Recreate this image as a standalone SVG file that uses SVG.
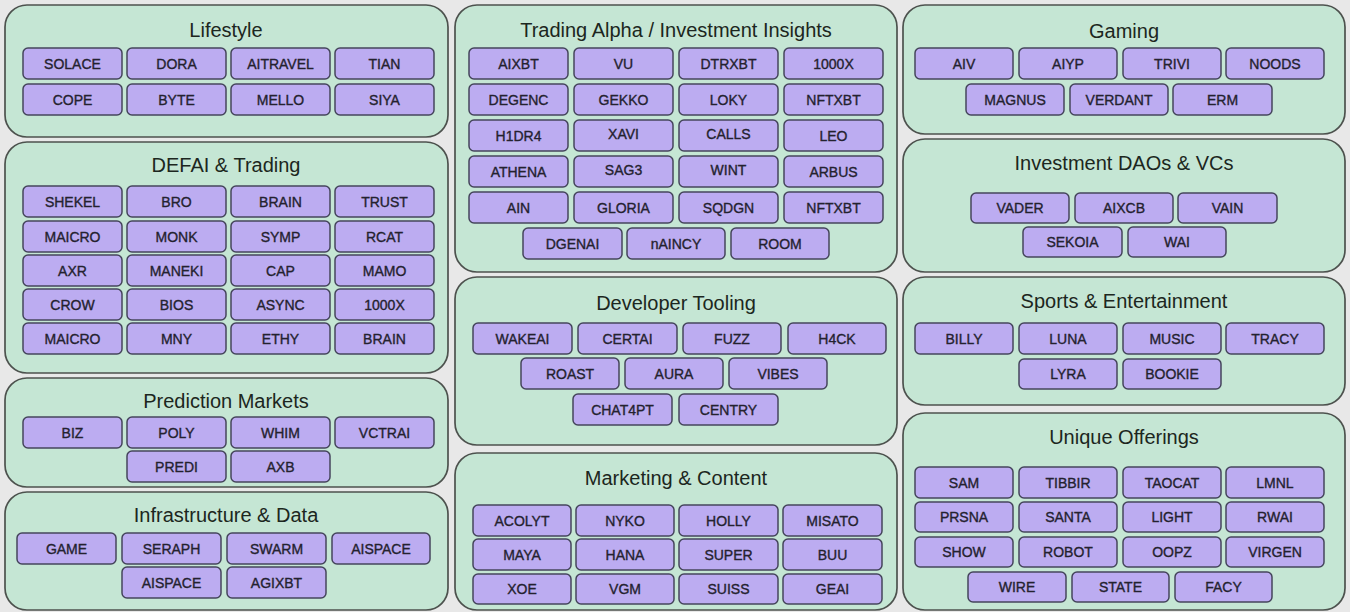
<svg xmlns="http://www.w3.org/2000/svg" width="1350" height="612" viewBox="0 0 1350 612">
<style>
.bg{fill:#e8e8e8}
.panel{fill:#c5e6d4;stroke:#4d524e;stroke-width:1.7}
.title{font-family:"Liberation Sans",Arial,sans-serif;font-size:20px;fill:#1c2620;text-anchor:middle;dominant-baseline:central}
.n rect{fill:#bcacf1;stroke:#45455c;stroke-width:1.5}
.n text{font-family:"Liberation Sans",Arial,sans-serif;font-size:14px;fill:#24222f;stroke:#24222f;stroke-width:0.35;text-anchor:middle;dominant-baseline:central}
</style>
<rect class="bg" x="0" y="0" width="1350" height="612"/>

<g id="panel-lifestyle">
<rect class="panel" x="5" y="5" width="443" height="132" rx="22"/>
<text class="title" x="226" y="30">Lifestyle</text>
<g class="n" id="n-solace"><rect x="23" y="48" width="99" height="31" rx="5"/><text x="72.5" y="64">SOLACE</text></g>
<g class="n" id="n-dora"><rect x="127" y="48" width="99" height="31" rx="5"/><text x="176.5" y="64">DORA</text></g>
<g class="n" id="n-aitravel"><rect x="231" y="48" width="99" height="31" rx="5"/><text x="280.5" y="64">AITRAVEL</text></g>
<g class="n" id="n-tian"><rect x="335" y="48" width="99" height="31" rx="5"/><text x="384.5" y="64">TIAN</text></g>
<g class="n" id="n-cope"><rect x="23" y="84" width="99" height="31" rx="5"/><text x="72.5" y="100">COPE</text></g>
<g class="n" id="n-byte"><rect x="127" y="84" width="99" height="31" rx="5"/><text x="176.5" y="100">BYTE</text></g>
<g class="n" id="n-mello"><rect x="231" y="84" width="99" height="31" rx="5"/><text x="280.5" y="100">MELLO</text></g>
<g class="n" id="n-siya"><rect x="335" y="84" width="99" height="31" rx="5"/><text x="384.5" y="100">SIYA</text></g>
</g>

<g id="panel-defai">
<rect class="panel" x="5" y="142" width="443" height="231" rx="22"/>
<text class="title" x="226" y="165">DEFAI &amp; Trading</text>
<g class="n" id="n-shekel"><rect x="23" y="186" width="99" height="31" rx="5"/><text x="72.5" y="202">SHEKEL</text></g>
<g class="n" id="n-bro"><rect x="127" y="186" width="99" height="31" rx="5"/><text x="176.5" y="202">BRO</text></g>
<g class="n" id="n-brain1"><rect x="231" y="186" width="99" height="31" rx="5"/><text x="280.5" y="202">BRAIN</text></g>
<g class="n" id="n-trust"><rect x="335" y="186" width="99" height="31" rx="5"/><text x="384.5" y="202">TRUST</text></g>
<g class="n" id="n-maicro1"><rect x="23" y="221" width="99" height="31" rx="5"/><text x="72.5" y="237">MAICRO</text></g>
<g class="n" id="n-monk"><rect x="127" y="221" width="99" height="31" rx="5"/><text x="176.5" y="237">MONK</text></g>
<g class="n" id="n-symp"><rect x="231" y="221" width="99" height="31" rx="5"/><text x="280.5" y="237">SYMP</text></g>
<g class="n" id="n-rcat"><rect x="335" y="221" width="99" height="31" rx="5"/><text x="384.5" y="237">RCAT</text></g>
<g class="n" id="n-axr"><rect x="23" y="255" width="99" height="31" rx="5"/><text x="72.5" y="271">AXR</text></g>
<g class="n" id="n-maneki"><rect x="127" y="255" width="99" height="31" rx="5"/><text x="176.5" y="271">MANEKI</text></g>
<g class="n" id="n-cap"><rect x="231" y="255" width="99" height="31" rx="5"/><text x="280.5" y="271">CAP</text></g>
<g class="n" id="n-mamo"><rect x="335" y="255" width="99" height="31" rx="5"/><text x="384.5" y="271">MAMO</text></g>
<g class="n" id="n-crow"><rect x="23" y="289" width="99" height="31" rx="5"/><text x="72.5" y="305">CROW</text></g>
<g class="n" id="n-bios"><rect x="127" y="289" width="99" height="31" rx="5"/><text x="176.5" y="305">BIOS</text></g>
<g class="n" id="n-async"><rect x="231" y="289" width="99" height="31" rx="5"/><text x="280.5" y="305">ASYNC</text></g>
<g class="n" id="n-1000x1"><rect x="335" y="289" width="99" height="31" rx="5"/><text x="384.5" y="305">1000X</text></g>
<g class="n" id="n-maicro2"><rect x="23" y="323" width="99" height="31" rx="5"/><text x="72.5" y="339">MAICRO</text></g>
<g class="n" id="n-mny"><rect x="127" y="323" width="99" height="31" rx="5"/><text x="176.5" y="339">MNY</text></g>
<g class="n" id="n-ethy"><rect x="231" y="323" width="99" height="31" rx="5"/><text x="280.5" y="339">ETHY</text></g>
<g class="n" id="n-brain2"><rect x="335" y="323" width="99" height="31" rx="5"/><text x="384.5" y="339">BRAIN</text></g>
</g>

<g id="panel-prediction">
<rect class="panel" x="5" y="378" width="443" height="109" rx="22"/>
<text class="title" x="226" y="401">Prediction Markets</text>
<g class="n" id="n-biz"><rect x="23" y="417" width="99" height="31" rx="5"/><text x="72.5" y="433">BIZ</text></g>
<g class="n" id="n-poly"><rect x="127" y="417" width="99" height="31" rx="5"/><text x="176.5" y="433">POLY</text></g>
<g class="n" id="n-whim"><rect x="231" y="417" width="99" height="31" rx="5"/><text x="280.5" y="433">WHIM</text></g>
<g class="n" id="n-vctrai"><rect x="335" y="417" width="99" height="31" rx="5"/><text x="384.5" y="433">VCTRAI</text></g>
<g class="n" id="n-predi"><rect x="127" y="451" width="99" height="31" rx="5"/><text x="176.5" y="467">PREDI</text></g>
<g class="n" id="n-axb"><rect x="231" y="451" width="99" height="31" rx="5"/><text x="280.5" y="467">AXB</text></g>
</g>

<g id="panel-infra">
<rect class="panel" x="5" y="492" width="443" height="118" rx="22"/>
<text class="title" x="226" y="515">Infrastructure &amp; Data</text>
<g class="n" id="n-game"><rect x="17" y="533" width="99" height="31" rx="5"/><text x="66.5" y="549">GAME</text></g>
<g class="n" id="n-seraph"><rect x="122" y="533" width="99" height="31" rx="5"/><text x="171.5" y="549">SERAPH</text></g>
<g class="n" id="n-swarm"><rect x="227" y="533" width="99" height="31" rx="5"/><text x="276.5" y="549">SWARM</text></g>
<g class="n" id="n-aispace1"><rect x="332" y="533" width="98" height="31" rx="5"/><text x="381" y="549">AISPACE</text></g>
<g class="n" id="n-aispace2"><rect x="122" y="567" width="99" height="31" rx="5"/><text x="171.5" y="583">AISPACE</text></g>
<g class="n" id="n-agixbt"><rect x="227" y="567" width="99" height="31" rx="5"/><text x="276.5" y="583">AGIXBT</text></g>
</g>

<g id="panel-trading">
<rect class="panel" x="455" y="5" width="442" height="267" rx="22"/>
<text class="title" x="676" y="30">Trading Alpha / Investment Insights</text>
<g class="n" id="n-aixbt"><rect x="469" y="48" width="99" height="31" rx="5"/><text x="518.5" y="64">AIXBT</text></g>
<g class="n" id="n-vu"><rect x="574" y="48" width="99" height="31" rx="5"/><text x="623.5" y="64">VU</text></g>
<g class="n" id="n-dtrxbt"><rect x="679" y="48" width="99" height="31" rx="5"/><text x="728.5" y="64">DTRXBT</text></g>
<g class="n" id="n-1000x2"><rect x="784" y="48" width="99" height="31" rx="5"/><text x="833.5" y="64">1000X</text></g>
<g class="n" id="n-degenc"><rect x="469" y="84" width="99" height="31" rx="5"/><text x="518.5" y="100">DEGENC</text></g>
<g class="n" id="n-gekko"><rect x="574" y="84" width="99" height="31" rx="5"/><text x="623.5" y="100">GEKKO</text></g>
<g class="n" id="n-loky"><rect x="679" y="84" width="99" height="31" rx="5"/><text x="728.5" y="100">LOKY</text></g>
<g class="n" id="n-nftxbt1"><rect x="784" y="84" width="99" height="31" rx="5"/><text x="833.5" y="100">NFTXBT</text></g>
<g class="n" id="n-h1dr4"><rect x="469" y="120" width="99" height="31" rx="5"/><text x="518.5" y="136">H1DR4</text></g>
<g class="n" id="n-xavi"><rect x="574" y="120" width="99" height="31" rx="5"/><text x="623.5" y="134">XAVI</text></g>
<g class="n" id="n-calls"><rect x="679" y="120" width="99" height="31" rx="5"/><text x="728.5" y="134">CALLS</text></g>
<g class="n" id="n-leo"><rect x="784" y="120" width="99" height="31" rx="5"/><text x="833.5" y="136">LEO</text></g>
<g class="n" id="n-athena"><rect x="469" y="156" width="99" height="31" rx="5"/><text x="518.5" y="172">ATHENA</text></g>
<g class="n" id="n-sag3"><rect x="574" y="156" width="99" height="31" rx="5"/><text x="623.5" y="170">SAG3</text></g>
<g class="n" id="n-wint"><rect x="679" y="156" width="99" height="31" rx="5"/><text x="728.5" y="170">WINT</text></g>
<g class="n" id="n-arbus"><rect x="784" y="156" width="99" height="31" rx="5"/><text x="833.5" y="172">ARBUS</text></g>
<g class="n" id="n-ain"><rect x="469" y="192" width="99" height="31" rx="5"/><text x="518.5" y="208">AIN</text></g>
<g class="n" id="n-gloria"><rect x="574" y="192" width="99" height="31" rx="5"/><text x="623.5" y="208">GLORIA</text></g>
<g class="n" id="n-sqdgn"><rect x="679" y="192" width="99" height="31" rx="5"/><text x="728.5" y="208">SQDGN</text></g>
<g class="n" id="n-nftxbt2"><rect x="784" y="192" width="99" height="31" rx="5"/><text x="833.5" y="208">NFTXBT</text></g>
<g class="n" id="n-dgenai"><rect x="523" y="228" width="99" height="31" rx="5"/><text x="572.5" y="244">DGENAI</text></g>
<g class="n" id="n-naincy"><rect x="627" y="228" width="98" height="31" rx="5"/><text x="676" y="244">nAINCY</text></g>
<g class="n" id="n-room"><rect x="731" y="228" width="98" height="31" rx="5"/><text x="780" y="244">ROOM</text></g>
</g>

<g id="panel-devtools">
<rect class="panel" x="455" y="277" width="442" height="168" rx="22"/>
<text class="title" x="676" y="303">Developer Tooling</text>
<g class="n" id="n-wakeai"><rect x="473" y="323" width="99" height="31" rx="5"/><text x="522.5" y="339">WAKEAI</text></g>
<g class="n" id="n-certai"><rect x="578" y="323" width="99" height="31" rx="5"/><text x="627.5" y="339">CERTAI</text></g>
<g class="n" id="n-fuzz"><rect x="683" y="323" width="98" height="31" rx="5"/><text x="732" y="339">FUZZ</text></g>
<g class="n" id="n-h4ck"><rect x="788" y="323" width="98" height="31" rx="5"/><text x="837" y="339">H4CK</text></g>
<g class="n" id="n-roast"><rect x="521" y="358" width="98" height="31" rx="5"/><text x="570" y="374">ROAST</text></g>
<g class="n" id="n-aura"><rect x="625" y="358" width="98" height="31" rx="5"/><text x="674" y="374">AURA</text></g>
<g class="n" id="n-vibes"><rect x="729" y="358" width="98" height="31" rx="5"/><text x="778" y="374">VIBES</text></g>
<g class="n" id="n-chat4pt"><rect x="573" y="394" width="99" height="31" rx="5"/><text x="622.5" y="410">CHAT4PT</text></g>
<g class="n" id="n-centry"><rect x="679" y="394" width="99" height="31" rx="5"/><text x="728.5" y="410">CENTRY</text></g>
</g>

<g id="panel-marketing">
<rect class="panel" x="455" y="453" width="442" height="157" rx="22"/>
<text class="title" x="676" y="478">Marketing &amp; Content</text>
<g class="n" id="n-acolyt"><rect x="473" y="505" width="98" height="31" rx="5"/><text x="522" y="521">ACOLYT</text></g>
<g class="n" id="n-nyko"><rect x="576" y="505" width="98" height="31" rx="5"/><text x="625" y="521">NYKO</text></g>
<g class="n" id="n-holly"><rect x="679" y="505" width="99" height="31" rx="5"/><text x="728.5" y="521">HOLLY</text></g>
<g class="n" id="n-misato"><rect x="783" y="505" width="99" height="31" rx="5"/><text x="832.5" y="521">MISATO</text></g>
<g class="n" id="n-maya"><rect x="473" y="539" width="98" height="31" rx="5"/><text x="522" y="555">MAYA</text></g>
<g class="n" id="n-hana"><rect x="576" y="539" width="98" height="31" rx="5"/><text x="625" y="555">HANA</text></g>
<g class="n" id="n-super"><rect x="679" y="539" width="99" height="31" rx="5"/><text x="728.5" y="555">SUPER</text></g>
<g class="n" id="n-buu"><rect x="783" y="539" width="99" height="31" rx="5"/><text x="832.5" y="555">BUU</text></g>
<g class="n" id="n-xoe"><rect x="473" y="574" width="98" height="30" rx="5"/><text x="522" y="589">XOE</text></g>
<g class="n" id="n-vgm"><rect x="576" y="574" width="98" height="30" rx="5"/><text x="625" y="589">VGM</text></g>
<g class="n" id="n-suiss"><rect x="679" y="574" width="99" height="30" rx="5"/><text x="728.5" y="589">SUISS</text></g>
<g class="n" id="n-geai"><rect x="783" y="574" width="99" height="30" rx="5"/><text x="832.5" y="589">GEAI</text></g>
</g>

<g id="panel-gaming">
<rect class="panel" x="903" y="5" width="442" height="129" rx="22"/>
<text class="title" x="1124" y="31">Gaming</text>
<g class="n" id="n-aiv"><rect x="915" y="48" width="98" height="31" rx="5"/><text x="964" y="64">AIV</text></g>
<g class="n" id="n-aiyp"><rect x="1019" y="48" width="98" height="31" rx="5"/><text x="1068" y="64">AIYP</text></g>
<g class="n" id="n-trivi"><rect x="1123" y="48" width="98" height="31" rx="5"/><text x="1172" y="64">TRIVI</text></g>
<g class="n" id="n-noods"><rect x="1226" y="48" width="98" height="31" rx="5"/><text x="1275" y="64">NOODS</text></g>
<g class="n" id="n-magnus"><rect x="966" y="84" width="98" height="31" rx="5"/><text x="1015" y="100">MAGNUS</text></g>
<g class="n" id="n-verdant"><rect x="1070" y="84" width="98" height="31" rx="5"/><text x="1119" y="100">VERDANT</text></g>
<g class="n" id="n-erm"><rect x="1173" y="84" width="99" height="31" rx="5"/><text x="1222.5" y="100">ERM</text></g>
</g>

<g id="panel-daos">
<rect class="panel" x="903" y="139" width="442" height="133" rx="22"/>
<text class="title" x="1124" y="163">Investment DAOs &amp; VCs</text>
<g class="n" id="n-vader"><rect x="971" y="193" width="98" height="30" rx="5"/><text x="1020" y="208">VADER</text></g>
<g class="n" id="n-aixcb"><rect x="1075" y="193" width="98" height="30" rx="5"/><text x="1124" y="208">AIXCB</text></g>
<g class="n" id="n-vain"><rect x="1178" y="193" width="99" height="30" rx="5"/><text x="1227.5" y="208">VAIN</text></g>
<g class="n" id="n-sekoia"><rect x="1023" y="227" width="99" height="30" rx="5"/><text x="1072.5" y="242">SEKOIA</text></g>
<g class="n" id="n-wai"><rect x="1128" y="227" width="98" height="30" rx="5"/><text x="1177" y="242">WAI</text></g>
</g>

<g id="panel-sports">
<rect class="panel" x="903" y="277" width="442" height="128" rx="22"/>
<text class="title" x="1124" y="301">Sports &amp; Entertainment</text>
<g class="n" id="n-billy"><rect x="915" y="323" width="98" height="31" rx="5"/><text x="964" y="339">BILLY</text></g>
<g class="n" id="n-luna"><rect x="1019" y="323" width="98" height="31" rx="5"/><text x="1068" y="339">LUNA</text></g>
<g class="n" id="n-music"><rect x="1123" y="323" width="98" height="31" rx="5"/><text x="1172" y="339">MUSIC</text></g>
<g class="n" id="n-tracy"><rect x="1226" y="323" width="98" height="31" rx="5"/><text x="1275" y="339">TRACY</text></g>
<g class="n" id="n-lyra"><rect x="1019" y="359" width="98" height="30" rx="5"/><text x="1068" y="374">LYRA</text></g>
<g class="n" id="n-bookie"><rect x="1123" y="359" width="98" height="30" rx="5"/><text x="1172" y="374">BOOKIE</text></g>
</g>

<g id="panel-unique">
<rect class="panel" x="903" y="413" width="442" height="197" rx="22"/>
<text class="title" x="1124" y="437">Unique Offerings</text>
<g class="n" id="n-sam"><rect x="915" y="467" width="98" height="31" rx="5"/><text x="964" y="483">SAM</text></g>
<g class="n" id="n-tibbir"><rect x="1019" y="467" width="98" height="31" rx="5"/><text x="1068" y="483">TIBBIR</text></g>
<g class="n" id="n-taocat"><rect x="1123" y="467" width="98" height="31" rx="5"/><text x="1172" y="483">TAOCAT</text></g>
<g class="n" id="n-lmnl"><rect x="1226" y="467" width="98" height="31" rx="5"/><text x="1275" y="483">LMNL</text></g>
<g class="n" id="n-prsna"><rect x="915" y="502" width="98" height="30" rx="5"/><text x="964" y="517">PRSNA</text></g>
<g class="n" id="n-santa"><rect x="1019" y="502" width="98" height="30" rx="5"/><text x="1068" y="517">SANTA</text></g>
<g class="n" id="n-light"><rect x="1123" y="502" width="98" height="30" rx="5"/><text x="1172" y="517">LIGHT</text></g>
<g class="n" id="n-rwai"><rect x="1226" y="502" width="98" height="30" rx="5"/><text x="1275" y="517">RWAI</text></g>
<g class="n" id="n-show"><rect x="915" y="537" width="98" height="30" rx="5"/><text x="964" y="552">SHOW</text></g>
<g class="n" id="n-robot"><rect x="1019" y="537" width="98" height="30" rx="5"/><text x="1068" y="552">ROBOT</text></g>
<g class="n" id="n-oopz"><rect x="1123" y="537" width="98" height="30" rx="5"/><text x="1172" y="552">OOPZ</text></g>
<g class="n" id="n-virgen"><rect x="1226" y="537" width="98" height="30" rx="5"/><text x="1275" y="552">VIRGEN</text></g>
<g class="n" id="n-wire"><rect x="968" y="572" width="98" height="30" rx="5"/><text x="1017" y="587">WIRE</text></g>
<g class="n" id="n-state"><rect x="1072" y="572" width="97" height="30" rx="5"/><text x="1120.5" y="587">STATE</text></g>
<g class="n" id="n-facy"><rect x="1175" y="572" width="97" height="30" rx="5"/><text x="1223.5" y="587">FACY</text></g>
</g>

<g id="connectors"/>
</svg>
